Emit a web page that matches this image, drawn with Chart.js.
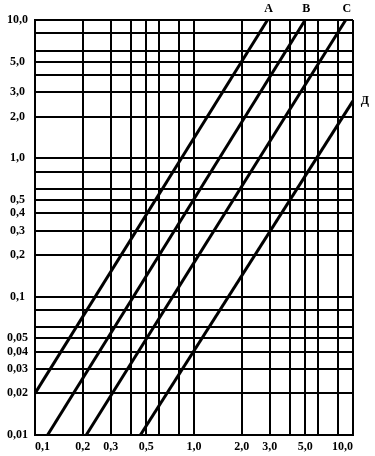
<!DOCTYPE html>
<html>
<head>
<meta charset="utf-8">
<script src="https://cdn.jsdelivr.net/npm/chart.js@4/dist/chart.umd.min.js"></script>
<style>
html,body{margin:0;padding:0;background:#fff;}
#wrap{width:375px;height:456px;position:relative;}
</style>
</head>
<body>
<div id="wrap"><canvas id="c"></canvas></div>
<script>
// Grid / tick values and labels
const xTicks = [0.1,0.2,0.3,0.4,0.5,0.6,0.8,1,2,3,4,5,6,8,10];
const xTickLabels = ['0,1','0,2','0,3','','0,5','','','1,0','2,0','3,0','','5,0','','','10,0'];
const yTicks = [0.01,0.02,0.03,0.04,0.05,0.06,0.08,0.1,0.2,0.3,0.4,0.5,0.6,0.8,1,2,3,4,5,6,8,10];
const yTickLabels = ['0,01','0,02','0,03','0,04','0,05','','','0,1','0,2','0,3','0,4','0,5','','','1,0','2,0','3,0','','5,0','','','10,0'];

// Series (straight lines on log-log axes: start and end points)
const seriesNames = ['А','В','С','Д'];
const xA = [0.1, 2.9],  yA = [0.02, 10];
const xB = [0.12, 5.0], yB = [0.01, 10];
const xC = [0.21, 9.0], yC = [0.01, 10];
const xD = [0.46, 10],  yD = [0.01, 2.6];

const toPts = (xs, ys) => xs.map((x, i) => ({x, y: ys[i]}));
const seriesX = [xA, xB, xC, xD];
const seriesY = [yA, yB, yC, yD];

const FONT = {family: '"Liberation Serif", "Times New Roman", serif', size: 12, weight: 'bold'};

const lineLabelPlugin = {
  id: 'lineLabels',
  afterDatasetsDraw(chart) {
    const {ctx, chartArea} = chart;
    ctx.save();
    ctx.font = 'bold 12px "Liberation Serif", serif';
    ctx.fillStyle = '#000';
    ctx.textAlign = 'center';
    ctx.textBaseline = 'middle';
    chart.data.datasets.forEach((ds, i) => {
      const meta = chart.getDatasetMeta(i);
      const p = meta.data[meta.data.length - 1];
      if (p.y <= chartArea.top + 1) {
        ctx.fillText(ds.label, p.x + 1, chartArea.top - 11);
      } else {
        ctx.fillText(ds.label, p.x + 12, p.y);
      }
    });
    ctx.restore();
  }
};

new Chart(document.getElementById('c'), {
  type: 'scatter',
  data: {
    datasets: seriesNames.map((name, i) => ({
      label: name,
      data: toPts(seriesX[i], seriesY[i]),
      showLine: true,
      borderColor: '#000',
      backgroundColor: '#000',
      borderWidth: 3,
      pointRadius: 0,
      fill: false
    }))
  },
  options: {
    responsive: true,
    maintainAspectRatio: false,
    animation: false,
    layout: {padding: {top: 20, right: 22, left: 0, bottom: 0}},
    plugins: {legend: {display: false}, tooltip: {enabled: false}},
    scales: {
      x: {
        type: 'logarithmic',
        position: 'bottom',
        min: 0.1,
        max: 10,
        afterBuildTicks: s => { s.ticks = xTicks.map(v => ({value: v})); },
        afterFit: s => { s.height = 21; },
        grid: {color: '#000', lineWidth: 2, drawTicks: false},
        border: {display: true, color: '#000', width: 2},
        ticks: {
          autoSkip: false, maxRotation: 0, minRotation: 0,
          align: 'inner', padding: 5, color: '#000', font: FONT,
          callback: (v, i) => xTickLabels[i]
        }
      },
      y: {
        type: 'logarithmic',
        position: 'left',
        min: 0.01,
        max: 10,
        afterBuildTicks: s => { s.ticks = yTicks.map(v => ({value: v})); },
        afterFit: s => { s.width = 35; },
        grid: {color: '#000', lineWidth: 2, drawTicks: false},
        border: {display: true, color: '#000', width: 2},
        ticks: {
          autoSkip: false, crossAlign: 'center', padding: 7, color: '#000', font: FONT,
          callback: (v, i) => yTickLabels[i]
        }
      }
    }
  },
  plugins: [lineLabelPlugin]
});
</script>
</body>
</html>
